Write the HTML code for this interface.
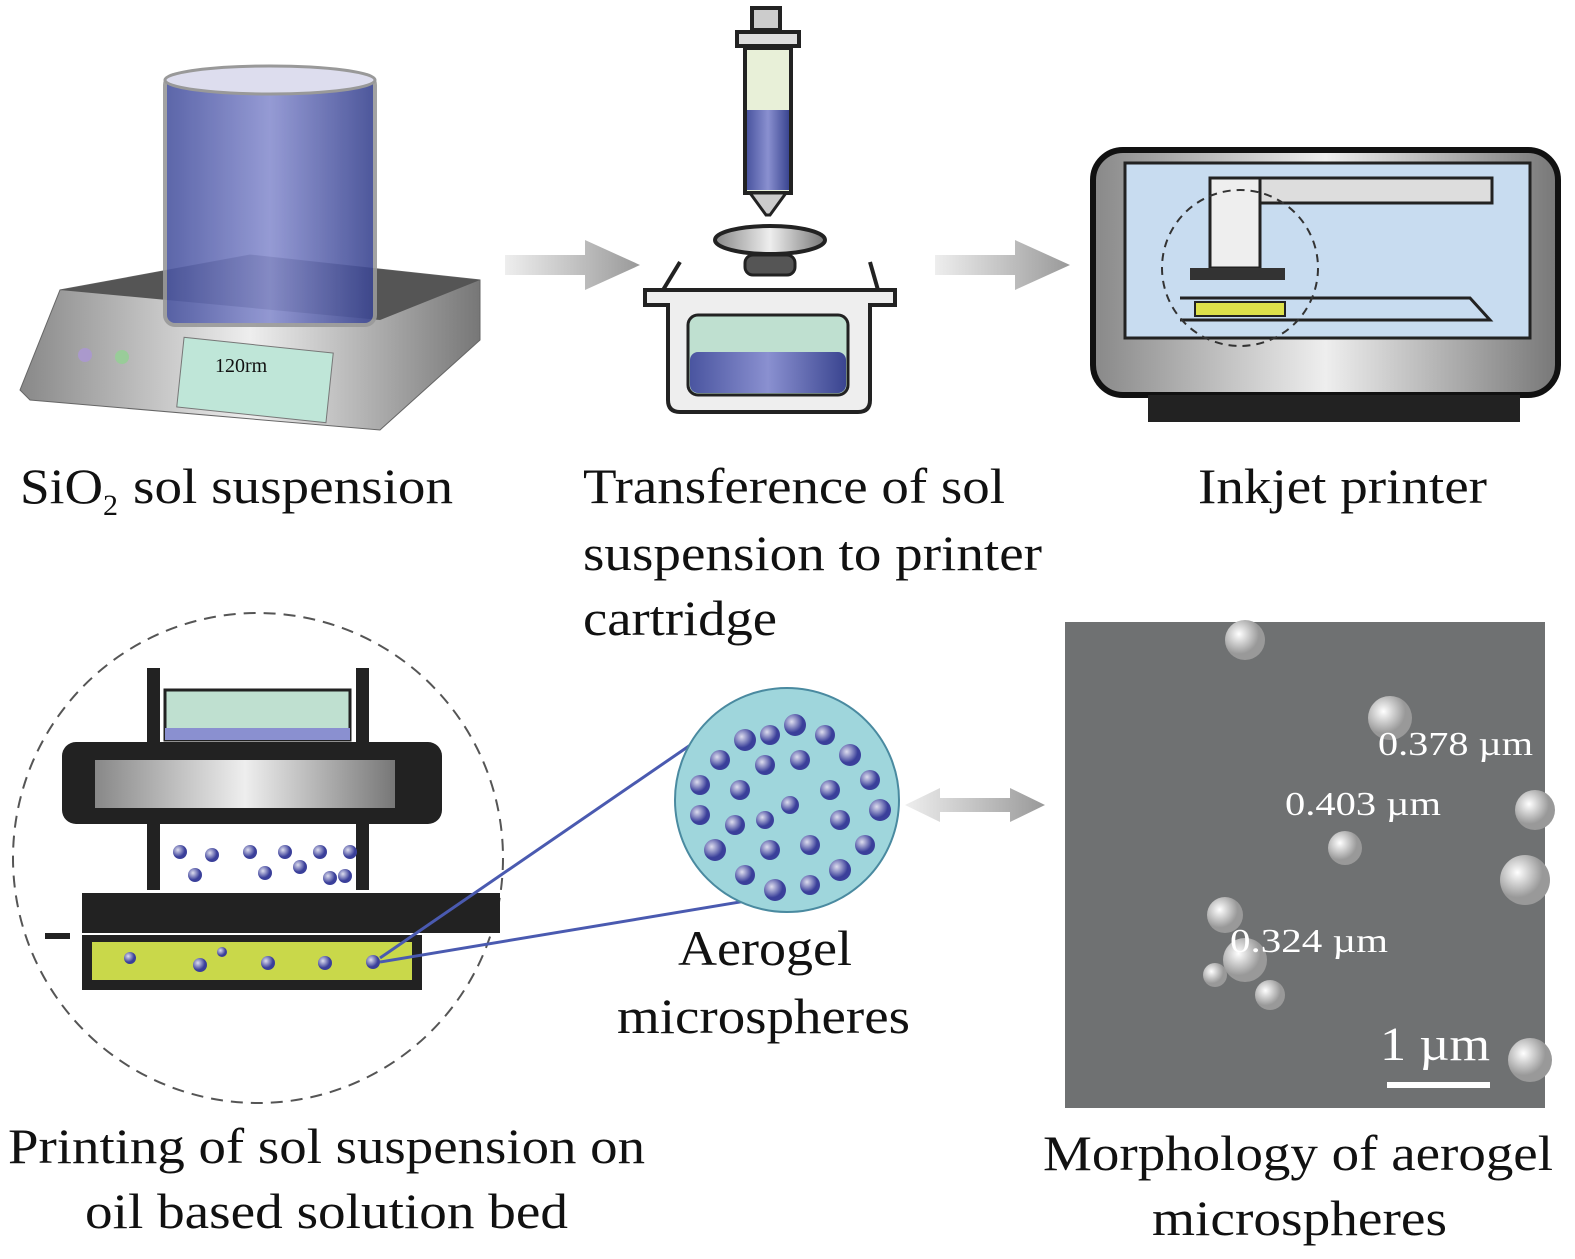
<!DOCTYPE html>
<html><head><meta charset="utf-8"><style>
html,body{margin:0;padding:0;background:#fff}
svg{display:block}
text{font-family:"Liberation Serif",serif;fill:#111}
</style></head><body>
<svg width="1575" height="1259" viewBox="0 0 1575 1259" xmlns="http://www.w3.org/2000/svg">
<defs>
<linearGradient id="metal" x1="0" x2="1"><stop offset="0" stop-color="#888"/><stop offset="0.5" stop-color="#eee"/><stop offset="1" stop-color="#777"/></linearGradient>
<linearGradient id="arr" x1="0" x2="1"><stop offset="0" stop-color="#eee"/><stop offset="1" stop-color="#999"/></linearGradient>
<linearGradient id="blue" x1="0" x2="1"><stop offset="0" stop-color="#4a55a0"/><stop offset="0.5" stop-color="#8a90d0"/><stop offset="1" stop-color="#3a4590"/></linearGradient>
<radialGradient id="sph" cx="0.35" cy="0.35"><stop offset="0" stop-color="#dde"/><stop offset="1" stop-color="#3a3f9a"/></radialGradient>
<radialGradient id="sem" cx="0.35" cy="0.35"><stop offset="0" stop-color="#fff"/><stop offset="1" stop-color="#999"/></radialGradient>
</defs>
<!-- hotplate -->
<path d="M20 390 L60 290 L250 255 L480 280 L480 340 L380 430 L30 400 Z" fill="url(#metal)" stroke="#666"/>
<path d="M60 290 L250 255 L480 280 L380 320 Z" fill="#555"/>
<rect x="180" y="345" width="150" height="70" fill="#bfe6d8" stroke="#777" transform="rotate(6 255 380)"/>
<text x="215" y="372" font-size="20" fill="#333">120rm</text>
<rect x="165" y="75" width="210" height="250" rx="10" fill="url(#blue)" stroke="#999" stroke-width="4" opacity="0.9"/>
<ellipse cx="270" cy="80" rx="105" ry="14" fill="#dde" stroke="#999" stroke-width="3"/>
<circle cx="85" cy="355" r="7" fill="#a9c"/><circle cx="122" cy="357" r="7" fill="#9c9"/>
<!-- arrows -->
<polygon points="505,255 585,255 585,240 640,265 585,290 585,275 505,275" fill="url(#arr)"/>
<polygon points="935,255 1015,255 1015,240 1070,265 1015,290 1015,275 935,275" fill="url(#arr)"/>
<!-- syringe -->
<rect x="752" y="8" width="28" height="22" fill="#ccc" stroke="#222" stroke-width="4"/>
<rect x="737" y="32" width="62" height="14" fill="#ddd" stroke="#222" stroke-width="4"/>
<rect x="745" y="48" width="46" height="145" fill="#e8f0d8" stroke="#222" stroke-width="4"/>
<rect x="747" y="110" width="42" height="80" fill="url(#blue)"/>
<polygon points="750,193 786,193 770,215 766,215" fill="#ccc" stroke="#222" stroke-width="3"/>
<ellipse cx="770" cy="240" rx="55" ry="14" fill="url(#metal)" stroke="#222" stroke-width="4"/>
<rect x="745" y="255" width="50" height="20" rx="8" fill="#555" stroke="#222" stroke-width="3"/>
<!-- cartridge -->
<path d="M645 290 L895 290 L895 305 L870 305 L870 400 Q870 412 858 412 L680 412 Q668 412 668 400 L668 305 L645 305 Z" fill="#eee" stroke="#222" stroke-width="4"/>
<rect x="688" y="315" width="160" height="80" rx="10" fill="#bfe0d0" stroke="#222" stroke-width="3"/>
<rect x="690" y="352" width="156" height="41" rx="8" fill="url(#blue)"/>
<line x1="663" y1="290" x2="680" y2="262" stroke="#222" stroke-width="4"/><line x1="878" y1="290" x2="870" y2="262" stroke="#222" stroke-width="4"/>
<!-- printer -->
<rect x="1093" y="150" width="465" height="245" rx="30" fill="url(#metal)" stroke="#111" stroke-width="6"/>
<rect x="1125" y="163" width="405" height="175" fill="#c8dcf0" stroke="#222" stroke-width="3"/>
<rect x="1148" y="395" width="372" height="27" fill="#222"/>
<rect x="1210" y="178" width="282" height="25" fill="#ddd" stroke="#222" stroke-width="3"/>
<rect x="1210" y="178" width="50" height="90" fill="#eee" stroke="#222" stroke-width="3"/>
<rect x="1190" y="268" width="95" height="12" fill="#333"/>
<rect x="1195" y="302" width="90" height="14" fill="#dde04a" stroke="#222" stroke-width="2"/>
<polyline points="1180,298 1470,298 1490,320 1180,320" fill="none" stroke="#222" stroke-width="3"/>
<circle cx="1240" cy="268" r="78" fill="none" stroke="#333" stroke-width="2" stroke-dasharray="8 6"/>
<!-- labels row 1 -->
<text x="20" y="503" font-size="50" textLength="83" lengthAdjust="spacingAndGlyphs">SiO</text>
<text x="103" y="515" font-size="30">2</text>
<text x="133" y="503" font-size="50" textLength="320" lengthAdjust="spacingAndGlyphs">sol suspension</text>
<text x="583" y="503" font-size="50" textLength="422" lengthAdjust="spacingAndGlyphs">Transference of sol</text>
<text x="583" y="570" font-size="50" textLength="459" lengthAdjust="spacingAndGlyphs">suspension to printer</text>
<text x="583" y="635" font-size="50" textLength="194" lengthAdjust="spacingAndGlyphs">cartridge</text>
<text x="1198" y="503" font-size="50" textLength="289" lengthAdjust="spacingAndGlyphs">Inkjet printer</text>
<!-- printing circle -->
<circle cx="258" cy="858" r="245" fill="none" stroke="#555" stroke-width="2" stroke-dasharray="12 8"/>
<rect x="147" y="668" width="13" height="222" fill="#222"/><rect x="356" y="668" width="13" height="222" fill="#222"/>
<rect x="165" y="690" width="185" height="50" fill="#bfe0d0" stroke="#222" stroke-width="3"/>
<rect x="165" y="728" width="185" height="12" fill="#8a90d0"/>
<rect x="62" y="742" width="380" height="82" rx="14" fill="#222"/>
<rect x="95" y="760" width="300" height="48" fill="url(#metal)"/>
<g fill="url(#sph)">
<circle cx="180" cy="852" r="7"/><circle cx="212" cy="855" r="7"/><circle cx="250" cy="852" r="7"/><circle cx="285" cy="852" r="7"/><circle cx="320" cy="852" r="7"/><circle cx="350" cy="852" r="7"/>
<circle cx="195" cy="875" r="7"/><circle cx="265" cy="873" r="7"/><circle cx="300" cy="867" r="7"/><circle cx="330" cy="878" r="7"/><circle cx="345" cy="876" r="7"/>
</g>
<rect x="82" y="893" width="418" height="40" fill="#222"/>
<rect x="82" y="935" width="340" height="55" fill="#222"/>
<rect x="92" y="942" width="320" height="38" fill="#c9d84a"/>
<rect x="45" y="933" width="25" height="6" fill="#222"/>
<g fill="url(#sph)"><circle cx="130" cy="958" r="6"/><circle cx="200" cy="965" r="7"/><circle cx="222" cy="952" r="5"/><circle cx="268" cy="963" r="7"/><circle cx="325" cy="963" r="7"/><circle cx="373" cy="962" r="7"/></g>
<line x1="380" y1="958" x2="705" y2="735" stroke="#4a5ab0" stroke-width="3"/>
<line x1="380" y1="962" x2="800" y2="892" stroke="#4a5ab0" stroke-width="3"/>
<circle cx="787" cy="800" r="112" fill="#9fd6dc" stroke="#4a8aa0" stroke-width="2"/>
<g fill="url(#sph)">
<circle cx="720" cy="760" r="10"/><circle cx="745" cy="740" r="11"/><circle cx="770" cy="735" r="10"/><circle cx="795" cy="725" r="11"/><circle cx="825" cy="735" r="10"/><circle cx="850" cy="755" r="11"/><circle cx="870" cy="780" r="10"/><circle cx="880" cy="810" r="11"/><circle cx="865" cy="845" r="10"/><circle cx="840" cy="870" r="11"/><circle cx="810" cy="885" r="10"/><circle cx="775" cy="890" r="11"/><circle cx="745" cy="875" r="10"/><circle cx="715" cy="850" r="11"/><circle cx="700" cy="815" r="10"/><circle cx="700" cy="785" r="10"/>
<circle cx="740" cy="790" r="10"/><circle cx="765" cy="765" r="10"/><circle cx="800" cy="760" r="10"/><circle cx="830" cy="790" r="10"/><circle cx="840" cy="820" r="10"/><circle cx="810" cy="845" r="10"/><circle cx="770" cy="850" r="10"/><circle cx="735" cy="825" r="10"/><circle cx="790" cy="805" r="9"/><circle cx="765" cy="820" r="9"/>
</g>
<polygon points="905,805 940,788 940,798 1010,798 1010,788 1045,805 1010,822 1010,812 940,812 940,822" fill="url(#arr)"/>
<text x="678" y="965" font-size="50" textLength="174" lengthAdjust="spacingAndGlyphs">Aerogel</text>
<text x="617" y="1033" font-size="50" textLength="293" lengthAdjust="spacingAndGlyphs">microspheres</text>
<!-- SEM -->
<rect x="1065" y="622" width="480" height="486" fill="#6f7172"/>
<g fill="url(#sem)">
<circle cx="1245" cy="640" r="20"/><circle cx="1390" cy="718" r="22"/><circle cx="1345" cy="848" r="17"/>
<circle cx="1225" cy="915" r="18"/><circle cx="1245" cy="960" r="22"/><circle cx="1270" cy="995" r="15"/><circle cx="1215" cy="975" r="12"/>
<circle cx="1535" cy="810" r="20"/><circle cx="1525" cy="880" r="25"/><circle cx="1530" cy="1060" r="22"/>
</g>
<text x="1378" y="755" font-size="34" style="fill:#fff" textLength="155" lengthAdjust="spacingAndGlyphs">0.378 µm</text>
<text x="1285" y="815" font-size="34" style="fill:#fff" textLength="156" lengthAdjust="spacingAndGlyphs">0.403 µm</text>
<text x="1230" y="952" font-size="34" style="fill:#fff" textLength="158" lengthAdjust="spacingAndGlyphs">0.324 µm</text>
<text x="1380" y="1060" font-size="48" style="fill:#fff" textLength="110" lengthAdjust="spacingAndGlyphs">1 µm</text>
<rect x="1387" y="1082" width="103" height="6" fill="#fff"/>
<text x="8" y="1163" font-size="50" textLength="637" lengthAdjust="spacingAndGlyphs">Printing of sol suspension on</text>
<text x="85" y="1228" font-size="50" textLength="483" lengthAdjust="spacingAndGlyphs">oil based solution bed</text>
<text x="1043" y="1170" font-size="50" textLength="510" lengthAdjust="spacingAndGlyphs">Morphology of aerogel</text>
<text x="1152" y="1235" font-size="50" textLength="295" lengthAdjust="spacingAndGlyphs">microspheres</text>
</svg>
</body></html>
